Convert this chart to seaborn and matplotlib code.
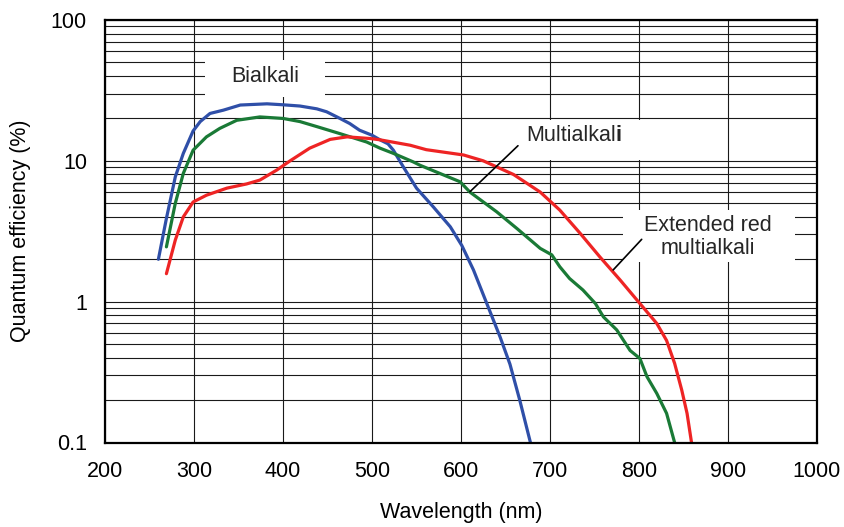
import numpy as np
import pandas as pd
import matplotlib
matplotlib.use("Agg")
import matplotlib.pyplot as plt
import seaborn as sns
from matplotlib.patches import Rectangle
from matplotlib.ticker import FixedLocator, LogLocator, NullFormatter, FixedFormatter

# Spectral response (wavelength in nm, QE in %)
bialkali_wl = [260, 269, 279, 288, 299, 307, 318, 333, 352, 382, 400, 419, 438, 449, 464,
               475, 486, 500, 509, 518, 524, 535, 550, 569, 588, 601, 614, 629, 644, 655, 666, 678]
bialkali_qe = [2.0, 3.9, 7.7, 11.3, 16.3, 19.0, 21.7, 22.9, 24.9, 25.4, 25.0, 24.5, 23.4, 22.3, 20.0,
               18.4, 16.5, 15.2, 14.1, 13.2, 11.9, 9.1, 6.4, 4.7, 3.4, 2.5, 1.68, 0.97, 0.56, 0.36, 0.20, 0.10]

multialkali_wl = [269, 279, 288, 299, 314, 329, 348, 374, 400, 419, 438, 464, 494, 509, 524,
                  546, 554, 576, 599, 610, 640, 663, 689, 702, 711, 722, 737, 751, 760, 775,
                  790, 801, 809, 820, 831, 840]
multialkali_qe = [2.45, 5.0, 8.15, 11.9, 14.8, 17.0, 19.4, 20.5, 20.0, 19.0, 17.5, 15.6, 13.6, 12.3, 11.3,
                  9.85, 9.3, 8.15, 7.1, 6.0, 4.35, 3.3, 2.39, 2.15, 1.77, 1.46, 1.21, 0.97, 0.78, 0.63,
                  0.45, 0.395, 0.293, 0.223, 0.161, 0.10]

ext_red_wl = [269, 279, 288, 299, 314, 337, 359, 374, 393, 408, 430, 453, 472, 498, 509, 543,
              561, 603, 625, 659, 689, 711, 734, 756, 779, 801, 820, 831, 840, 848, 854, 859]
ext_red_qe = [1.58, 2.74, 4.0, 5.1, 5.7, 6.4, 6.85, 7.3, 8.6, 10.0, 12.3, 14.2, 14.8, 14.4, 14.1, 12.9,
              12.0, 11.0, 10.0, 8.0, 6.0, 4.47, 3.05, 2.08, 1.42, 0.97, 0.70, 0.53, 0.365, 0.236, 0.161, 0.10]

series_names = ["Bialkali", "Multialkali", "Extended red multialkali"]
series_colors = ["#2F4FA8", "#1A7A36", "#EE2424"]

x_ticks = [200, 300, 400, 500, 600, 700, 800, 900, 1000]
y_ticks = [0.1, 1, 10, 100]
y_tick_labels = ["0.1", "1", "10", "100"]

frames = []
for name, wl, qe in zip(series_names,
                        [bialkali_wl, multialkali_wl, ext_red_wl],
                        [bialkali_qe, multialkali_qe, ext_red_qe]):
    frames.append(pd.DataFrame({"wavelength": wl, "qe": qe, "cathode": name}))
df = pd.concat(frames, ignore_index=True)

sns.set_theme(style="white")
plt.rcParams["font.family"] = ["Liberation Sans", "DejaVu Sans"]
FS = 15.5

W, H = 844, 527
fig = plt.figure(figsize=(W / 100, H / 100), dpi=100)
left, right, top, bottom = 105, 817, 20, 442.5
ax = fig.add_axes([left / W, (H - bottom) / H, (right - left) / W, (bottom - top) / H])

ax.set_yscale("log")
ax.set_xlim(200, 1000)
ax.set_ylim(0.1, 100)

# grid: vertical every 100 nm, horizontal on every log step
ax.xaxis.set_major_locator(FixedLocator(x_ticks))
ax.yaxis.set_major_locator(FixedLocator(y_ticks))
ax.yaxis.set_major_formatter(FixedFormatter(y_tick_labels))
ax.yaxis.set_minor_locator(LogLocator(base=10, subs=np.arange(2, 10)))
ax.yaxis.set_minor_formatter(NullFormatter())
ax.grid(which="major", axis="both", color="#1a1a1a", linewidth=0.8)
ax.grid(which="minor", axis="y", color="#1a1a1a", linewidth=0.8)
ax.set_axisbelow(True)

# white label boxes that mask the grid
for (x0, x1, y0, y1) in [(312, 447, 28.5, 52), (649, 807, 10.1, 19.4), (782, 975, 1.92, 4.45)]:
    ax.add_patch(Rectangle((x0, y0), x1 - x0, y1 - y0, facecolor="white",
                           edgecolor="none", zorder=1.5))

sns.lineplot(data=df, x="wavelength", y="qe", hue="cathode", palette=series_colors,
             hue_order=series_names, sort=False, estimator=None, legend=False,
             linewidth=2.3, ax=ax, zorder=3)

for sp in ax.spines.values():
    sp.set_color("black")
    sp.set_linewidth(1.6)
    sp.set_zorder(4)

ax.tick_params(axis="both", which="both", length=0, labelsize=FS, colors="black")
ax.tick_params(axis="x", pad=13)
ax.tick_params(axis="y", pad=13)

ax.set_xlabel("Wavelength (nm)", fontsize=FS, color="black")
ax.set_ylabel("Quantum efficiency (%)", fontsize=FS, color="black")
ax.xaxis.set_label_coords(0.5, -0.142)
ax.yaxis.set_label_coords(-0.104, 0.5)

ax.text(380, 39.5, "Bialkali", fontsize=FS, ha="center", va="center", zorder=5)
# the final "i" is bold in the original
ax.text(774, 15.2, "Multialkal", fontsize=FS, ha="right", va="center", zorder=5)
ax.text(774, 15.2, "i", fontsize=FS, fontweight="bold", ha="left", va="center", zorder=5)
ax.text(877, 2.88, "Extended red\nmultialkali", fontsize=FS, ha="center", va="center",
        linespacing=1.1, zorder=5)

# leader lines
ax.plot([664, 610], [12.8, 6.03], color="black", linewidth=1.2, zorder=3.5)
ax.plot([803, 771], [2.77, 1.68], color="black", linewidth=1.2, zorder=3.5)

fig.savefig("out.png", dpi=100, facecolor="white")
